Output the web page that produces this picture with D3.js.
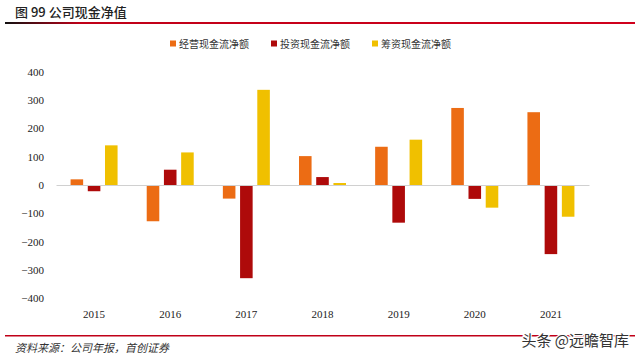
<!DOCTYPE html>
<html><head><meta charset="utf-8">
<script src="https://cdn.jsdelivr.net/npm/d3@7"></script>
<style>
html,body{margin:0;padding:0;background:#fff;}
svg{display:block;}
</style></head>
<body>
<svg id="chart" width="640" height="361"></svg>
<script>
const categories = ["2015","2016","2017","2018","2019","2020","2021"];
const seriesNames = ["经营现金流净额","投资现金流净额","筹资现金流净额"];
const operating = [20, -128, -48, 102, 135, 272, 257];
const investing = [-22, 54, -329, 28, -133, -49, -244];
const financing = [140, 115, 336, 7, 160, -80, -112];
const yTicks = [-400,-300,-200,-100,0,100,200,300,400];
const colors = ["#EC6C14","#AE0A0A","#F0C000"];

const svg = d3.select("#chart");
const cjk = "'Noto Sans CJK SC', sans-serif";
const serif = "'Liberation Serif','DejaVu Serif',serif";

// header
svg.append("text").attr("x",15).attr("y",17).attr("font-family",cjk).attr("font-size",13)
  .attr("font-weight",500).attr("fill","#222").text("图 99 公司现金净值");
const hg = svg.append("defs").append("linearGradient").attr("id","hl");
hg.append("stop").attr("offset","0%").attr("stop-color","#111");
hg.append("stop").attr("offset","12%").attr("stop-color","#C00018");
hg.append("stop").attr("offset","100%").attr("stop-color","#D0001C");
svg.append("rect").attr("x",5).attr("y",22).attr("width",630).attr("height",2).attr("fill","url(#hl)");

const x0 = d3.scaleBand().domain(categories).range([56,589]).paddingInner(0).paddingOuter(0);
const x1 = d3.scaleBand().domain(d3.range(3)).range([x0.bandwidth()/2-23.5, x0.bandwidth()/2+23.5]).paddingInner(0.27);
const y = d3.scaleLinear().domain([-400,400]).range([298.3,71.7]);

// axis labels
const yAxis = d3.axisLeft(y).tickValues(yTicks).tickSize(0).tickPadding(0).tickFormat(d3.format("d"));
const ga = svg.append("g").attr("transform","translate(44,0)").call(yAxis);
ga.select(".domain").remove();
ga.selectAll("text").attr("font-family",serif).attr("font-size",11).attr("fill","#222");

// bars
const series = [operating, investing, financing];
const g = svg.append("g");
series.forEach((vals,si)=>{
  g.selectAll(null).data(vals).enter().append("rect")
    .attr("x",(d,i)=>x0(categories[i])+x1(si))
    .attr("width",x1.bandwidth())
    .attr("y",d=>y(Math.max(0,d)))
    .attr("height",d=>Math.abs(y(d)-y(0)))
    .attr("fill",colors[si]);
});

// zero line
const xAxis = d3.axisBottom(x0).tickSize(0).tickPadding(0);
const gx = svg.append("g").attr("transform",`translate(0,${y(0)})`).call(xAxis);
gx.select(".domain").attr("stroke","#d0d0d0").attr("stroke-width",1);
gx.selectAll("text").attr("transform",`translate(0,${310.5-y(0)})`)
  .attr("font-family",serif).attr("font-size",11).attr("fill","#222");

// legend
const legX = [170,271,372];
seriesNames.forEach((n,i)=>{
  svg.append("rect").attr("x",legX[i]).attr("y",40.5).attr("width",6).attr("height",6).attr("fill",colors[i]);
  svg.append("text").attr("x",legX[i]+9).attr("y",47.5).attr("font-family",cjk).attr("font-size",10)
    .attr("fill","#333").text(n);
});

// footer
svg.append("rect").attr("x",5).attr("y",335).attr("width",630).attr("height",1.5).attr("fill","#C00018");
svg.append("text").attr("x",15).attr("y",352).attr("font-family",cjk).attr("font-size",11)
  .attr("font-style","italic").attr("fill","#333").text("资料来源：公司年报，首创证券");
svg.append("text").attr("x",629).attr("y",346).attr("text-anchor","end").attr("font-family",cjk)
  .attr("font-size",15).attr("fill","#333").attr("stroke","#fff").attr("stroke-width",2.5)
  .attr("paint-order","stroke").text("头条 @远瞻智库");
</script>
</body></html>
